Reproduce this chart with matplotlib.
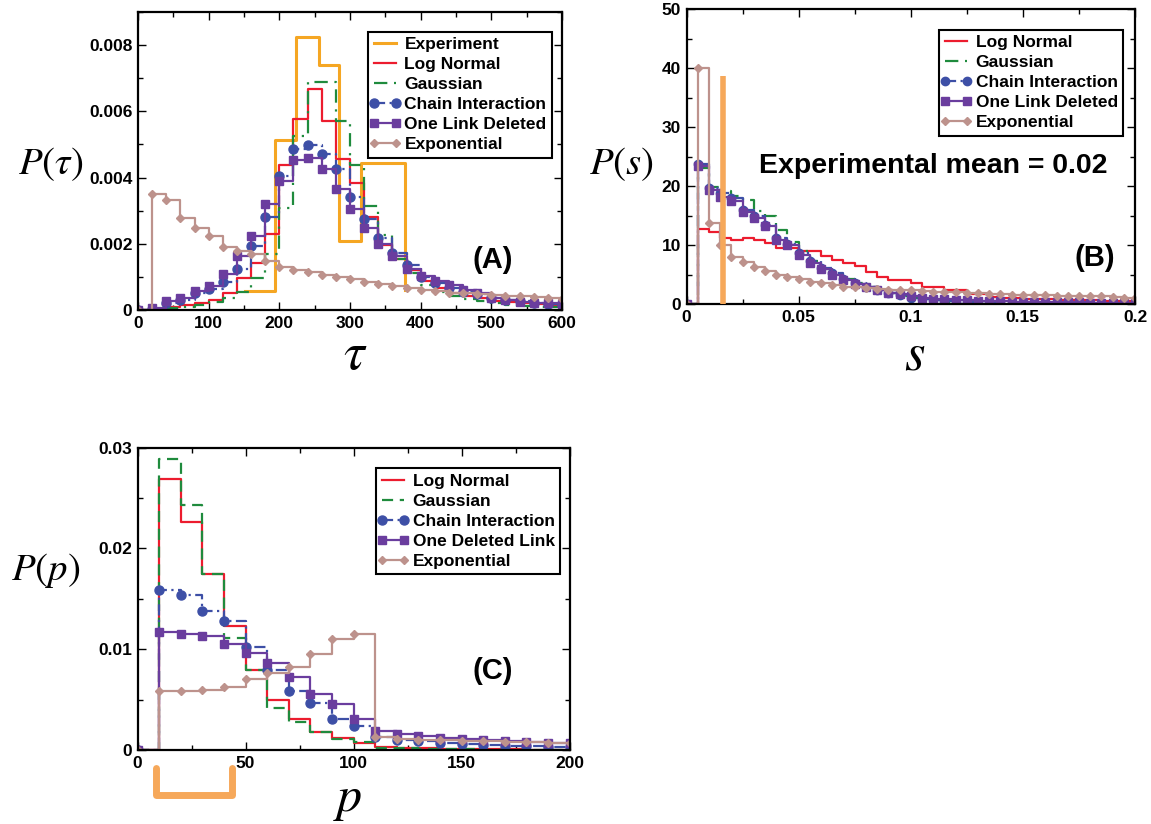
import numpy as np
import matplotlib
matplotlib.use('Agg')
import matplotlib.pyplot as plt
from matplotlib.ticker import MultipleLocator, FuncFormatter
from matplotlib.lines import Line2D
from matplotlib.legend_handler import HandlerLine2D

plt.rcParams['font.family'] = ['Liberation Sans', 'DejaVu Sans']
plt.rcParams['mathtext.fontset'] = 'stix'

# ---------------- panel A : tau ----------------
tau_x = np.arange(0, 620, 20)
tau_exp_x = [151, 194, 224, 256, 285, 316, 378]
tau_exp_y = [0.00058, 0.00513, 0.00824, 0.0074, 0.00208, 0.00443, 0.0006]
tau_lognormal = [0, 0.00003, 0.00008, 0.00014, 0.00022, 0.00031, 0.00052, 0.00098, 0.00141, 0.00231,
                 0.00437, 0.00578, 0.00668, 0.0057, 0.00455, 0.00384, 0.0028, 0.00195, 0.00153, 0.0012,
                 0.00088, 0.00067, 0.00052, 0.00042, 0.00035, 0.00028, 0.00024, 0.0002, 0.00017, 0.00014, 0.00012]
tau_gauss = [0, 0.00002, 0.00006, 0.0001, 0.00016, 0.00025, 0.00037, 0.00055, 0.00096, 0.0017,
             0.00309, 0.00527, 0.00688, 0.00688, 0.0057, 0.00437, 0.00314, 0.00228, 0.00153, 0.00113,
             0.00075, 0.00055, 0.00042, 0.00033, 0.00026, 0.0002, 0.00016, 0.00013, 0.0001, 0.00008, 0.00006]
tau_chain = [0, 0.00004, 0.00022, 0.0003, 0.00052, 0.00062, 0.00085, 0.00125, 0.00193, 0.00281,
             0.00405, 0.00485, 0.00497, 0.0047, 0.00425, 0.00342, 0.00276, 0.00217, 0.00173, 0.00135,
             0.001, 0.00083, 0.00067, 0.00055, 0.00047, 0.00037, 0.0003, 0.00026, 0.00022, 0.00017, 0.00014]
tau_onelink = [0, 0.00007, 0.00026, 0.00037, 0.00057, 0.00072, 0.00108, 0.00163, 0.00223, 0.00319,
               0.00389, 0.00453, 0.0046, 0.00425, 0.00366, 0.00306, 0.00249, 0.00198, 0.00163, 0.00123,
               0.00103, 0.00088, 0.00077, 0.0006, 0.00052, 0.00037, 0.0003, 0.00025, 0.00022, 0.0002, 0.00017]
tau_expon = [0, 0.0035, 0.00332, 0.00279, 0.00247, 0.00223, 0.00191, 0.00178, 0.0017, 0.00147,
             0.0013, 0.00122, 0.00114, 0.00106, 0.001, 0.00093, 0.00086, 0.0008, 0.00072, 0.00066,
             0.0006, 0.00056, 0.00052, 0.0005, 0.00047, 0.00045, 0.00043, 0.00041, 0.00039, 0.00037, 0.00034]

# ---------------- panel B : s ----------------
s_x = np.linspace(0, 0.2, 41)
s_lognormal = [0, 12.7, 12.2, 11.2, 10.8, 11.2, 10.8, 10.3, 9.5, 9.5,
               8.9, 8.9, 8.1, 7.5, 6.9, 6.4, 5.4, 4.5, 4.1, 4.1,
               3.6, 2.9, 2.9, 2.3, 2.3, 1.7, 1.7, 1.2, 1.1, 1.0,
               0.9, 0.85, 0.8, 0.75, 0.7, 0.65, 0.6, 0.55, 0.5, 0.5, 0.5]
s_gauss = [0, 23.0, 19.8, 19.2, 18.3, 17.6, 15.8, 15.0, 12.5, 10.5,
           9.0, 7.3, 6.0, 5.0, 4.3, 3.6, 2.9, 2.3, 1.8, 1.4,
           1.0, 0.8, 0.6, 0.4, 0.3, 0.2, 0.15, 0.1, 0.08, 0.06,
           0.05, 0.04, 0.03, 0.02, 0.02, 0.01, 0.01, 0.01, 0, 0, 0]
s_chain = [0, 23.7, 19.6, 18.8, 17.9, 15.9, 15.0, 13.4, 11.2, 10.1,
           8.6, 7.3, 6.1, 5.2, 4.3, 3.5, 2.8, 2.3, 1.8, 1.5,
           1.1, 0.9, 0.7, 0.5, 0.4, 0.35, 0.3, 0.25, 0.2, 0.2,
           0.15, 0.15, 0.1, 0.1, 0.1, 0.08, 0.08, 0.06, 0.06, 0.05, 0.05]
s_onelink = [0, 23.4, 19.3, 18.2, 17.5, 15.6, 14.5, 13.2, 10.8, 10.0,
             8.3, 6.9, 6.0, 4.9, 4.1, 3.4, 2.8, 2.4, 1.9, 1.7,
             1.4, 1.1, 0.9, 0.8, 0.7, 0.6, 0.55, 0.5, 0.45, 0.4,
             0.38, 0.35, 0.32, 0.3, 0.28, 0.26, 0.25, 0.23, 0.22, 0.2, 0.2]
s_expon = [0, 40.0, 13.8, 10.0, 8.0, 7.1, 6.2, 5.6, 4.9, 4.5,
           4.2, 3.8, 3.5, 3.2, 2.9, 2.8, 2.7, 2.5, 2.4, 2.4,
           2.3, 2.2, 2.1, 2.1, 2.0, 1.9, 1.8, 1.7, 1.7, 1.6,
           1.5, 1.5, 1.45, 1.4, 1.4, 1.35, 1.3, 1.3, 1.2, 1.1, 1.0]
s_exp_mean = 0.0163
s_exp_bar = 38.6

# ---------------- panel C : p ----------------
p_x = np.arange(0, 210, 10)
p_lognormal = [0, 0.0269, 0.0226, 0.0175, 0.0123, 0.0079, 0.005, 0.0031, 0.0018, 0.0012,
               0.00066, 0.0003, 0.0002, 0.00015, 0.0001, 0.00008, 0.00006, 0.00005, 0.00004, 0.00003, 0.00003]
p_gauss = [0, 0.0289, 0.0243, 0.0175, 0.0111, 0.0079, 0.0042, 0.0028, 0.0018, 0.0011,
           0.00076, 0.0002, 0.00015, 0.0001, 0.00007, 0.00005, 0.00004, 0.00003, 0.00002, 0.00002, 0.00001]
p_chain = [0, 0.0159, 0.0154, 0.0138, 0.0128, 0.0102, 0.0079, 0.0059, 0.0047, 0.0031,
           0.0024, 0.0013, 0.001, 0.0009, 0.00066, 0.00056, 0.0005, 0.00043, 0.0004, 0.00033, 0.00026]
p_onelink = [0, 0.0117, 0.0115, 0.0113, 0.0105, 0.0096, 0.0086, 0.0072, 0.0056, 0.0046,
             0.0031, 0.0019, 0.0016, 0.0014, 0.0012, 0.0011, 0.001, 0.0009, 0.0008, 0.0007, 0.00066]
p_expon = [0, 0.0059, 0.0059, 0.006, 0.0062, 0.007, 0.0076, 0.0082, 0.0095, 0.011,
           0.0115, 0.0013, 0.0011, 0.001, 0.001, 0.0009, 0.0009, 0.0008, 0.0008, 0.0007, 0.0007]
p_bracket = [8.6, 43.7]   # experimental range marked under the axis

# colours / styles (xmgrace look)
C_EXP = '#f5a623'
C_RED = '#ec1c2e'
C_GRN = '#1f8b3d'
C_BLU = '#3d4fa6'
C_PUR = '#6a3d9e'
C_BRN = '#bd928c'
C_BAR = '#f6a85a'
LW = 1.6

def fmt(v, pos):
    if abs(v) < 1e-12:
        return '0'
    return '%g' % v

def style_axes(ax, xmaj, xmin, ymaj, ymin):
    ax.xaxis.set_major_locator(MultipleLocator(xmaj))
    ax.xaxis.set_minor_locator(MultipleLocator(xmin))
    ax.yaxis.set_major_locator(MultipleLocator(ymaj))
    ax.yaxis.set_minor_locator(MultipleLocator(ymin))
    ax.xaxis.set_major_formatter(FuncFormatter(fmt))
    ax.yaxis.set_major_formatter(FuncFormatter(fmt))
    ax.tick_params(which='both', direction='in', top=True, right=True, width=1.0, labelsize=12.5)
    ax.tick_params(which='major', length=6, pad=4)
    ax.tick_params(which='minor', length=3.5)
    for sp in ax.spines.values():
        sp.set_linewidth(1.6)
    for lab in ax.get_xticklabels() + ax.get_yticklabels():
        lab.set_fontweight('bold')

def steps(ax, x, y, lw=LW, **kw):
    return ax.plot(x, y, drawstyle='steps-post', lw=lw, **kw)[0]

def add_legend(ax, handles, labels, anchor):
    leg = ax.legend(handles, labels, loc='upper right', bbox_to_anchor=anchor, borderaxespad=0,
                    fancybox=False, framealpha=1, edgecolor='black', numpoints=2,
                    prop={'weight': 'bold', 'size': 12.5}, handlelength=1.35, handletextpad=0.45,
                    labelspacing=0.28, borderpad=0.3,
                    handler_map={Line2D: HandlerLine2D(marker_pad=0.05)})
    leg.get_frame().set_linewidth(1.5)
    return leg

fig = plt.figure(figsize=(11.51, 8.24), dpi=100)
W, H = 1151.0, 824.0

def axes_px(left, top, right, bottom):
    return fig.add_axes([left / W, 1 - bottom / H, (right - left) / W, (bottom - top) / H])

# ---- A ----
axA = axes_px(138, 12, 562, 310)
hA = []
hA.append(steps(axA, tau_exp_x, tau_exp_y, color=C_EXP, lw=2.2))
hA.append(steps(axA, tau_x, tau_lognormal, color=C_RED))
hA.append(steps(axA, tau_x, tau_gauss, color=C_GRN, linestyle=(0, (6, 3, 1, 3))))
hA.append(steps(axA, tau_x, tau_chain, color=C_BLU, linestyle=(0, (5, 2, 1, 2)), marker='o', ms=6.5))
hA.append(steps(axA, tau_x, tau_onelink, color=C_PUR, marker='s', ms=6))
hA.append(steps(axA, tau_x, tau_expon, color=C_BRN, marker='D', ms=4.5))
axA.set_xlim(0, 600)
axA.set_ylim(0, 0.009)
style_axes(axA, 100, 50, 0.002, 0.001)
add_legend(axA, hA, ['Experiment', 'Log Normal', 'Gaussian', 'Chain Interaction',
                     'One Link Deleted', 'Exponential'], (0.976, 0.933))
axA.text(0.837, 0.168, '(A)', transform=axA.transAxes, ha='center', va='center',
         fontsize=21, fontweight='bold')

# ---- B ----
axB = axes_px(686.5, 9, 1135, 304)
hB = []
hB.append(steps(axB, s_x, s_lognormal, color=C_RED))
hB.append(steps(axB, s_x, s_gauss, color=C_GRN, linestyle=(0, (6, 3, 1, 3))))
hB.append(steps(axB, s_x, s_chain, color=C_BLU, linestyle=(0, (5, 2, 1, 2)), marker='o', ms=6))
hB.append(steps(axB, s_x, s_onelink, color=C_PUR, marker='s', ms=5.5))
hB.append(steps(axB, s_x, s_expon, color=C_BRN, marker='D', ms=4.5))
axB.plot([s_exp_mean, s_exp_mean], [0, s_exp_bar], color=C_BAR, lw=4, solid_capstyle='butt', zorder=5)
axB.set_xlim(0, 0.2)
axB.set_ylim(0, 50)
style_axes(axB, 0.05, 0.025, 10, 5)
add_legend(axB, hB, ['Log Normal', 'Gaussian', 'Chain Interaction', 'One Link Deleted',
                     'Exponential'], (0.973, 0.929))
axB.text(0.911, 0.156, '(B)', transform=axB.transAxes, ha='center', va='center',
         fontsize=21, fontweight='bold')
axB.text(0.55, 0.468, 'Experimental mean = 0.02', transform=axB.transAxes, ha='center',
         va='center', fontsize=20.5, fontweight='bold')

# ---- C ----
axC = axes_px(137.5, 447.5, 569.5, 750)
hC = []
hC.append(steps(axC, p_x, p_lognormal, color=C_RED))
hC.append(steps(axC, p_x, p_gauss, color=C_GRN, linestyle=(0, (5, 3))))
hC.append(steps(axC, p_x, p_chain, color=C_BLU, linestyle=(0, (5, 2, 1, 2)), marker='o', ms=6.5))
hC.append(steps(axC, p_x, p_onelink, color=C_PUR, marker='s', ms=6))
hC.append(steps(axC, p_x, p_expon, color=C_BRN, marker='D', ms=4.5))
axC.set_xlim(0, 200)
axC.set_ylim(0, 0.03)
style_axes(axC, 50, 25, 0.01, 0.005)
add_legend(axC, hC, ['Log Normal', 'Gaussian', 'Chain Interaction', 'One Deleted Link',
                     'Exponential'], (0.978, 0.931))
axC.text(0.823, 0.261, '(C)', transform=axC.transAxes, ha='center', va='center',
         fontsize=21, fontweight='bold')
# orange bracket under the p axis
axC.plot([p_bracket[0], p_bracket[0], p_bracket[1], p_bracket[1]],
         [-0.0018, -0.0045, -0.0045, -0.0018], color=C_BAR, lw=5,
         solid_joinstyle='round', solid_capstyle='round', clip_on=False)

# axis labels (serif italic, like the original)
def ftext(x, y, s, size):
    fig.text(x / W, 1 - y / H, s, ha='center', va='center', fontsize=size, fontweight='normal')

ftext(51, 164, r'$P(\tau)$', 28)
ftext(621, 164, r'$P(s)$', 28)
ftext(46, 571, r'$P(p)$', 28)
ftext(355, 355, r'$\tau$', 38)
ftext(915, 355, r'$s$', 38)
ftext(348, 800, r'$p$', 36)

fig.savefig('out.png', dpi=100)
